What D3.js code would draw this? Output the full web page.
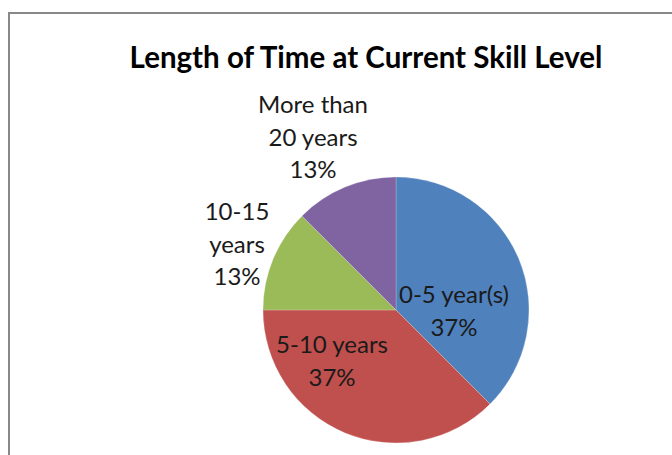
<!DOCTYPE html>
<html>
<head>
<meta charset="utf-8">
<script src="https://cdn.jsdelivr.net/npm/d3@7"></script>
<style>
  html, body { margin: 0; padding: 0; background: #fff; overflow: hidden; }
  svg { display: block; }
</style>
</head>
<body>
<div id="chart"></div>
<script>
// chart data
const categories = ['0-5 year(s)', '5-10 years', '10-15 years', 'More than 20 years'];
const values = [37.5, 37.5, 12.5, 12.5];
const percentLabels = ['37%', '37%', '13%', '13%'];
// how each label is broken into lines, as shown on the chart
const labelLines = [
    ['0-5 year(s)'],
    ['5-10 years'],
    ['10-15', 'years'],
    ['More than', '20 years']
];
const colors = ['#4F81BD', '#C0504D', '#9BBB59', '#8064A2'];

// layout
const width = 672, height = 455;
const cx = 396, cy = 310, radius = 133;
// first-baseline offset of each label block from the pie centre
const labelOffsets = [[58, -7], [-64, 43], [-159, -90], [-83, -197]];
const lineHeight = 32.5;
const fontFamily = 'Lato, "Open Sans", sans-serif';

const svg = d3.select('#chart')
    .append('svg')
    .attr('width', width)
    .attr('height', height);

svg.append('rect')
    .attr('width', width)
    .attr('height', height)
    .attr('fill', '#fff');

// chart frame (runs off the right and bottom edges)
svg.append('rect')
    .attr('x', 9)
    .attr('y', 13)
    .attr('width', width + 20)
    .attr('height', height + 20)
    .attr('fill', 'none')
    .attr('stroke', '#888')
    .attr('stroke-width', 2);

svg.append('text')
    .attr('x', 366)
    .attr('y', 68)
    .attr('text-anchor', 'middle')
    .attr('font-family', fontFamily)
    .attr('font-weight', 'bold')
    .attr('font-size', 29.5)
    .attr('fill', '#000')
    .text('Length of Time at Current Skill Level');

const pie = d3.pie().sort(null).value(d => d);
const arcs = pie(values);
const arc = d3.arc().innerRadius(0).outerRadius(radius);

const g = svg.append('g').attr('transform', `translate(${cx},${cy})`);

g.selectAll('path')
    .data(arcs)
    .join('path')
    .attr('d', arc)
    .attr('fill', (d, i) => colors[i])
    .attr('stroke', '#fff')
    .attr('stroke-width', 0.5)
    .attr('stroke-opacity', 0.4);

const labels = g.selectAll('text.label')
    .data(arcs)
    .join('text')
    .attr('class', 'label')
    .attr('text-anchor', 'middle')
    .attr('font-family', fontFamily)
    .attr('font-size', 24)
    .attr('fill', '#1a1a1a');

labels.each(function (d, i) {
    const t = d3.select(this);
    const lines = labelLines[i].concat([percentLabels[i]]);
    const [dx, dy] = labelOffsets[i];
    lines.forEach((line, k) => {
        t.append('tspan')
            .attr('x', dx)
            .attr('y', dy + k * lineHeight)
            .text(line);
    });
});
</script>
</body>
</html>
